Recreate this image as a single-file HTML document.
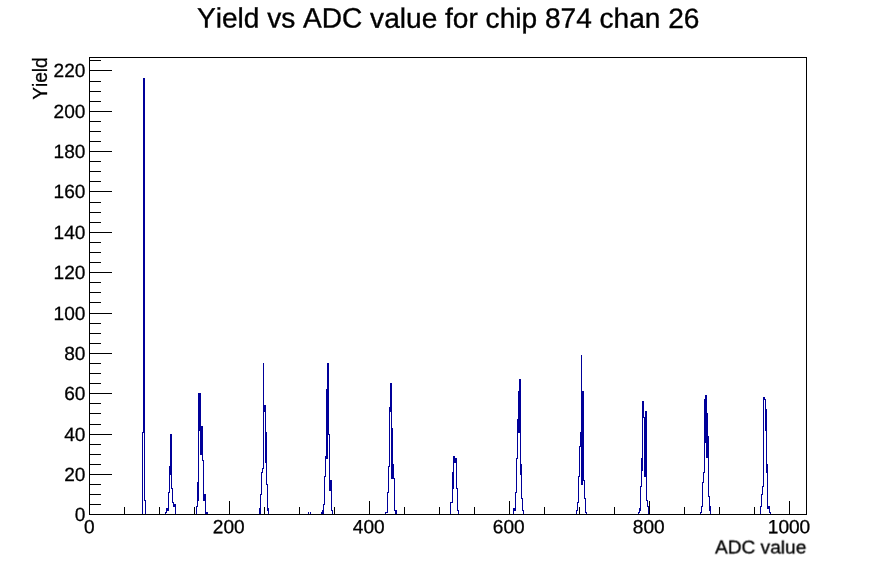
<!DOCTYPE html>
<html><head><meta charset="utf-8"><title>Yield vs ADC value</title>
<style>html,body{margin:0;padding:0;background:#fff}svg{display:block}text{font-family:"Liberation Sans",sans-serif;fill:#000;font-kerning:none}</style></head><body>
<svg width="896" height="572" viewBox="0 0 896 572">
<rect width="896" height="572" fill="#fff"/>
<defs><filter id="g" filterUnits="userSpaceOnUse" x="0" y="0" width="896" height="572"><feOffset dx="0" dy="0"/></filter></defs>
<g filter="url(#g)" style="will-change:opacity">
<text transform="translate(448.2,27.7) rotate(0.05)" font-size="28.08" text-anchor="middle" stroke="#000" stroke-width="0.35">Yield vs ADC value for chip 874 chan 26</text>
<text transform="translate(89.4,533.3) rotate(0.05)" font-size="19.1" text-anchor="middle" stroke="#000" stroke-width="0.3">0</text>
<text transform="translate(228.7,533.3) rotate(0.05)" font-size="19.1" text-anchor="middle" stroke="#000" stroke-width="0.3">200</text>
<text transform="translate(368.7,533.3) rotate(0.05)" font-size="19.1" text-anchor="middle" stroke="#000" stroke-width="0.3">400</text>
<text transform="translate(508.7,533.3) rotate(0.05)" font-size="19.1" text-anchor="middle" stroke="#000" stroke-width="0.3">600</text>
<text transform="translate(648.7,533.3) rotate(0.05)" font-size="19.1" text-anchor="middle" stroke="#000" stroke-width="0.3">800</text>
<text transform="translate(789.0,533.3) rotate(0.05)" font-size="19.1" text-anchor="middle" stroke="#000" stroke-width="0.3">1000</text>
<text transform="translate(85.4,521.1) rotate(0.05)" font-size="19.1" text-anchor="end" stroke="#000" stroke-width="0.3">0</text>
<text transform="translate(85.4,481.1) rotate(0.05)" font-size="19.1" text-anchor="end" stroke="#000" stroke-width="0.3">20</text>
<text transform="translate(85.4,441.1) rotate(0.05)" font-size="19.1" text-anchor="end" stroke="#000" stroke-width="0.3">40</text>
<text transform="translate(85.4,400.1) rotate(0.05)" font-size="19.1" text-anchor="end" stroke="#000" stroke-width="0.3">60</text>
<text transform="translate(85.4,360.1) rotate(0.05)" font-size="19.1" text-anchor="end" stroke="#000" stroke-width="0.3">80</text>
<text transform="translate(85.4,320.1) rotate(0.05)" font-size="19.1" text-anchor="end" stroke="#000" stroke-width="0.3">100</text>
<text transform="translate(85.4,279.1) rotate(0.05)" font-size="19.1" text-anchor="end" stroke="#000" stroke-width="0.3">120</text>
<text transform="translate(85.4,239.1) rotate(0.05)" font-size="19.1" text-anchor="end" stroke="#000" stroke-width="0.3">140</text>
<text transform="translate(85.4,198.1) rotate(0.05)" font-size="19.1" text-anchor="end" stroke="#000" stroke-width="0.3">160</text>
<text transform="translate(85.4,158.1) rotate(0.05)" font-size="19.1" text-anchor="end" stroke="#000" stroke-width="0.3">180</text>
<text transform="translate(85.4,118.1) rotate(0.05)" font-size="19.1" text-anchor="end" stroke="#000" stroke-width="0.3">200</text>
<text transform="translate(85.4,77.1) rotate(0.05)" font-size="19.1" text-anchor="end" stroke="#000" stroke-width="0.3">220</text>
<text transform="translate(806.3,553.6) rotate(0.05)" font-size="19.1" text-anchor="end" stroke="#000" stroke-width="0.3">ADC value</text>
<text transform="translate(47.2,57.3) rotate(-90) scale(1.0,1.05)" font-size="19.1" text-anchor="end" stroke="#000" stroke-width="0.3">Yield</text>
</g>
<path d="M142 432h1v83h-1zM142 432h2v1h-2zM143 78h1v355h-1zM144 78h1v423h-1zM144 500h2v1h-2zM145 500h1v15h-1zM165 512h1v3h-1zM166 508h1v5h-1zM166 508h3v3h-3zM168 492h1v19h-1zM168 492h2v1h-2zM169 466h1v27h-1zM169 466h2v1h-2zM170 434h1v41h-1zM171 434h1v55h-1zM171 488h2v1h-2zM172 488h1v15h-1zM172 502h2v1h-2zM173 502h1v5h-1zM173 504h3v3h-3zM175 504h1v11h-1zM196 506h1v9h-1zM196 506h2v1h-2zM197 482h1v25h-1zM198 393h1v108h-1zM198 393h3v38h-3zM200 426h3v29h-3zM202 454h1v7h-1zM202 460h2v1h-2zM203 460h1v41h-1zM203 494h3v7h-3zM205 494h1v21h-1zM205 512h3v3h-3zM259 508h2v7h-2zM260 494h1v15h-1zM260 494h2v1h-2zM261 472h1v23h-1zM261 472h2v1h-2zM262 468h1v5h-1zM262 468h2v1h-2zM263 363h1v106h-1zM263 405h3v7h-3zM265 405h1v58h-1zM265 432h2v1h-2zM266 432h1v53h-1zM266 484h2v1h-2zM267 484h1v27h-1zM267 508h2v3h-2zM268 508h1v7h-1zM308 512h1v3h-1zM310 512h1v3h-1zM321 512h3v3h-3zM322 510h2v5h-2zM323 504h1v11h-1zM323 504h2v1h-2zM324 476h1v29h-1zM324 476h2v1h-2zM325 456h1v21h-1zM325 456h2v1h-2zM326 389h1v70h-1zM327 363h1v96h-1zM328 363h1v72h-1zM328 434h2v1h-2zM329 434h1v47h-1zM329 480h3v11h-3zM331 490h1v21h-1zM331 510h2v1h-2zM332 510h1v5h-1zM385 512h1v3h-1zM385 512h3v1h-3zM387 492h1v21h-1zM387 492h2v1h-2zM388 466h1v27h-1zM388 466h2v1h-2zM389 407h1v60h-1zM389 407h3v5h-3zM390 383h1v29h-1zM391 383h1v96h-1zM392 428h1v51h-1zM391 464h3v15h-3zM393 478h2v1h-2zM394 478h1v33h-1zM394 510h3v1h-3zM395 510h2v5h-2zM450 502h1v13h-1zM450 502h3v1h-3zM452 472h1v31h-1zM453 456h1v33h-1zM453 456h2v3h-2zM453 458h4v5h-4zM456 458h1v31h-1zM456 488h2v1h-2zM457 488h1v23h-1zM457 510h2v1h-2zM458 510h1v5h-1zM513 508h3v3h-3zM513 508h1v7h-1zM515 492h1v19h-1zM515 492h2v1h-2zM516 458h1v35h-1zM516 458h2v1h-2zM517 419h1v40h-1zM517 419h4v14h-4zM518 391h3v42h-3zM519 379h2v13h-2zM520 379h1v86h-1zM520 464h2v11h-2zM521 464h1v35h-1zM521 498h2v1h-2zM522 498h1v13h-1zM522 510h2v1h-2zM523 510h1v5h-1zM576 510h1v5h-1zM576 510h2v1h-2zM577 502h1v9h-1zM577 502h2v1h-2zM578 476h1v27h-1zM578 476h2v1h-2zM579 446h1v31h-1zM579 446h2v1h-2zM580 432h1v15h-1zM581 355h1v130h-1zM581 391h3v90h-3zM581 480h2v5h-2zM583 480h2v1h-2zM584 480h1v19h-1zM584 498h2v1h-2zM585 498h1v15h-1zM585 512h2v1h-2zM586 512h1v3h-1zM638 512h1v3h-1zM638 512h2v1h-2zM639 508h1v5h-1zM639 508h2v3h-2zM640 486h1v25h-1zM640 486h2v1h-2zM641 458h1v29h-1zM642 401h1v70h-1zM642 401h2v17h-2zM645 411h2v7h-2zM642 417h5v1h-5zM644 417h3v60h-3zM646 411h1v90h-1zM646 500h2v1h-2zM647 500h1v7h-1zM647 506h2v1h-2zM648 506h1v9h-1zM700 512h1v3h-1zM700 512h2v1h-2zM701 506h1v7h-1zM701 506h2v1h-2zM702 482h1v25h-1zM702 482h2v1h-2zM703 472h1v11h-1zM703 472h2v1h-2zM704 399h1v74h-1zM705 395h2v5h-2zM704 399h3v15h-3zM704 413h4v24h-4zM704 436h5v7h-5zM706 443h3v15h-3zM708 436h1v61h-1zM708 496h2v1h-2zM709 496h1v15h-1zM709 506h2v5h-2zM710 506h1v9h-1zM760 506h1v9h-1zM760 506h2v1h-2zM761 494h1v13h-1zM761 494h2v1h-2zM762 486h1v9h-1zM762 486h2v1h-2zM763 397h1v90h-1zM763 397h2v3h-2zM763 399h3v1h-3zM765 399h1v32h-1zM766 409h1v64h-1zM767 464h1v45h-1zM767 506h3v3h-3zM769 506h1v7h-1zM769 512h2v1h-2zM770 512h1v3h-1z" fill="#000099" stroke="none" shape-rendering="crispEdges"/>
<path d="M89 57h718v1h-718zM89 514h718v1h-718zM89 57h1v458h-1zM806 57h1v458h-1zM89 501h1v14h-1zM124 507h1v8h-1zM159 507h1v8h-1zM194 507h1v8h-1zM229 501h1v14h-1zM264 507h1v8h-1zM299 507h1v8h-1zM334 507h1v8h-1zM369 501h1v14h-1zM404 507h1v8h-1zM439 507h1v8h-1zM474 507h1v8h-1zM509 501h1v14h-1zM544 507h1v8h-1zM579 507h1v8h-1zM614 507h1v8h-1zM649 501h1v14h-1zM684 507h1v8h-1zM719 507h1v8h-1zM754 507h1v8h-1zM789 501h1v14h-1zM89 514h23v1h-23zM89 504h12v1h-12zM89 494h12v1h-12zM89 484h12v1h-12zM89 474h23v1h-23zM89 464h12v1h-12zM89 454h12v1h-12zM89 444h12v1h-12zM89 434h23v1h-23zM89 424h12v1h-12zM89 413h12v1h-12zM89 403h12v1h-12zM89 393h23v1h-23zM89 383h12v1h-12zM89 373h12v1h-12zM89 363h12v1h-12zM89 353h23v1h-23zM89 343h12v1h-12zM89 333h12v1h-12zM89 323h12v1h-12zM89 313h23v1h-23zM89 302h12v1h-12zM89 292h12v1h-12zM89 282h12v1h-12zM89 272h23v1h-23zM89 262h12v1h-12zM89 252h12v1h-12zM89 242h12v1h-12zM89 232h23v1h-23zM89 222h12v1h-12zM89 212h12v1h-12zM89 202h12v1h-12zM89 191h23v1h-23zM89 181h12v1h-12zM89 171h12v1h-12zM89 161h12v1h-12zM89 151h23v1h-23zM89 141h12v1h-12zM89 131h12v1h-12zM89 121h12v1h-12zM89 111h23v1h-23zM89 101h12v1h-12zM89 91h12v1h-12zM89 81h12v1h-12zM89 70h23v1h-23zM89 60h12v1h-12z" fill="#000" stroke="none" shape-rendering="crispEdges"/>
</svg>
</body></html>
